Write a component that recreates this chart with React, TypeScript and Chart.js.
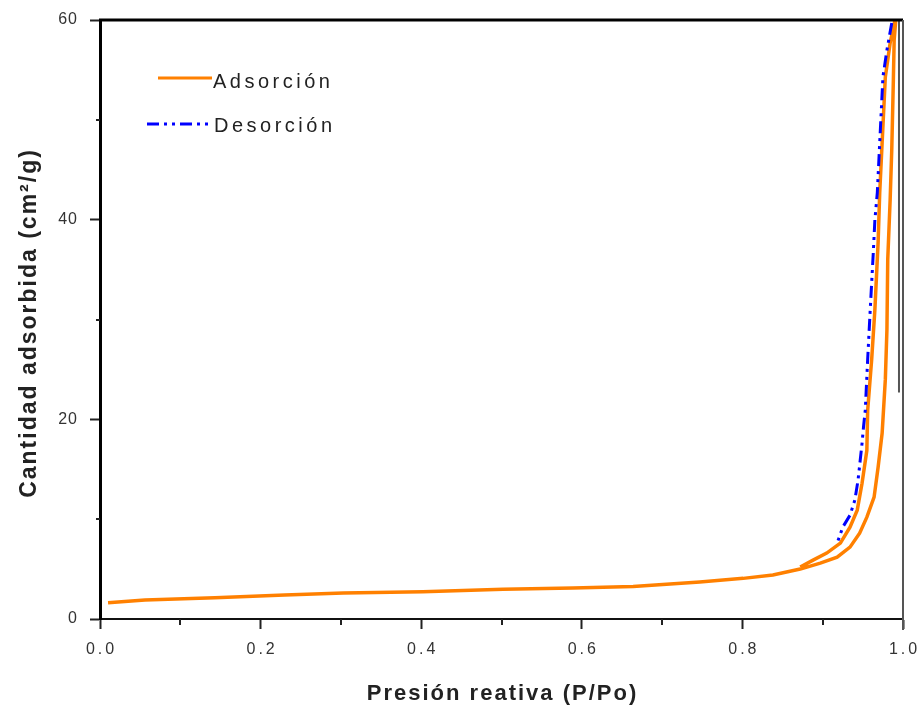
import React, { useEffect, useRef } from 'react';
import { Chart, registerables } from 'chart.js';

Chart.register(...registerables);

// ---- data ----
const xTickValues = [0, 0.2, 0.4, 0.6, 0.8, 1.0];
const xTickLabels = ['0.0', '0.2', '0.4', '0.6', '0.8', '1.0'];
const xMinorTicks = [0.1, 0.3, 0.5, 0.7, 0.9];
const yTickValues = [0, 20, 40, 60];
const yTickLabels = ['0', '20', '40', '60'];
const yMinorTicks = [10, 30, 50];

// adsorption branch (orange), rising
const adsorcionX = [0.010, 0.056, 0.143, 0.230, 0.303, 0.402, 0.502, 0.589, 0.664, 0.710, 0.747, 0.801, 0.838, 0.872, 0.897, 0.918, 0.934, 0.946, 0.955, 0.964, 0.969, 0.974, 0.978, 0.980, 0.981, 0.984, 0.986, 0.988, 0.989, 0.991];
const adsorcionY = [1.63, 1.90, 2.13, 2.40, 2.60, 2.74, 2.97, 3.10, 3.25, 3.50, 3.70, 4.07, 4.40, 5.00, 5.60, 6.20, 7.20, 8.60, 10.2, 12.2, 15.2, 18.6, 24.0, 29.0, 36.0, 42.0, 47.0, 54.0, 58.0, 60.0];
// orange return branch (closing the hysteresis loop)
const retornoX = [0.990, 0.984, 0.978, 0.974, 0.971, 0.969, 0.965, 0.961, 0.956, 0.955, 0.949, 0.943, 0.934, 0.922, 0.905, 0.888, 0.872];
const retornoY = [60.0, 57.7, 54.3, 47.7, 42.7, 37.7, 31.0, 26.0, 20.9, 16.9, 13.6, 10.9, 9.2, 7.6, 6.6, 5.9, 5.2];
// desorption (blue dash-dot)
const desorcionX = [0.986, 0.980, 0.975, 0.971, 0.968, 0.965, 0.963, 0.959, 0.956, 0.953, 0.951, 0.949, 0.944, 0.940, 0.934, 0.925, 0.918];
const desorcionY = [59.7, 57.0, 54.3, 47.7, 42.7, 40.0, 36.7, 30.7, 26.0, 20.9, 19.4, 17.6, 13.9, 11.9, 10.4, 9.2, 7.6];
// grey drop line near the right edge
const lineaX = [0.995, 0.995];
const lineaY = [22.7, 60.0];

const seriesNames = ['Adsorción', 'Desorción'];
const xTitle = 'Presión reativa (P/Po)';
const yTitle = 'Cantidad adsorbida (cm²/g)';

const ORANGE = '#FF8000';
const BLUE = '#0000FF';
const DASH = [12, 5, 3, 5, 3, 5];
const FONT = '"Liberation Sans", Arial, sans-serif';

const pts = (xs: number[], ys: number[]) => xs.map((x, i) => ({ x, y: ys[i] }));

const decor = {
  id: 'decor',
  afterDraw(chart: any) {
    const { ctx, chartArea: a, scales } = chart;
    const xs = scales.x;
    const ys = scales.y;
    ctx.save();
    // top frame
    ctx.strokeStyle = '#000';
    ctx.lineWidth = 3;
    ctx.beginPath();
    ctx.moveTo(a.left - 1, a.top);
    ctx.lineTo(a.right, a.top);
    ctx.stroke();
    // right frame
    ctx.strokeStyle = '#555';
    ctx.lineWidth = 2;
    ctx.beginPath();
    ctx.moveTo(a.right, a.top);
    ctx.lineTo(a.right, a.bottom + 11);
    ctx.stroke();
    // minor ticks
    ctx.strokeStyle = '#222';
    ctx.lineWidth = 2;
    xMinorTicks.forEach((v) => {
      const px = Math.round(xs.getPixelForValue(v));
      ctx.beginPath();
      ctx.moveTo(px, a.bottom);
      ctx.lineTo(px, a.bottom + 6);
      ctx.stroke();
    });
    yMinorTicks.forEach((v) => {
      const py = Math.round(ys.getPixelForValue(v));
      ctx.beginPath();
      ctx.moveTo(a.left, py);
      ctx.lineTo(a.left - 4, py);
      ctx.stroke();
    });
    // tick labels
    ctx.fillStyle = '#333';
    ctx.font = '16px ' + FONT;
    ctx.textBaseline = 'middle';
    (ctx as any).letterSpacing = '3px';
    ctx.textAlign = 'center';
    xTickValues.forEach((v, i) => {
      ctx.fillText(xTickLabels[i], xs.getPixelForValue(v) + 1.5, 650);
    });
    (ctx as any).letterSpacing = '1px';
    ctx.textAlign = 'right';
    yTickValues.forEach((v, i) => {
      ctx.fillText(yTickLabels[i], 78, ys.getPixelForValue(v));
    });
    // axis titles
    ctx.fillStyle = '#222';
    ctx.textBaseline = 'alphabetic';
    ctx.font = 'bold 22px ' + FONT;
    (ctx as any).letterSpacing = '2px';
    ctx.textAlign = 'center';
    ctx.fillText(xTitle, (a.left + a.right) / 2 + 1, 700);
    ctx.save();
    ctx.translate(36, 323);
    ctx.rotate(-Math.PI / 2);
    ctx.font = 'bold 23px ' + FONT;
    (ctx as any).letterSpacing = '2px';
    ctx.fillText(yTitle, 0, 0);
    ctx.restore();
    // legend
    ctx.lineWidth = 3;
    ctx.strokeStyle = ORANGE;
    ctx.setLineDash([]);
    ctx.beginPath();
    ctx.moveTo(158, 78);
    ctx.lineTo(212, 78);
    ctx.stroke();
    ctx.strokeStyle = BLUE;
    ctx.setLineDash(DASH);
    ctx.beginPath();
    ctx.moveTo(147, 124);
    ctx.lineTo(208, 124);
    ctx.stroke();
    ctx.setLineDash([]);
    ctx.font = '20px ' + FONT;
    (ctx as any).letterSpacing = '3.5px';
    ctx.textAlign = 'left';
    ctx.fillStyle = '#222';
    ctx.fillText(seriesNames[0], 213, 88);
    ctx.fillText(seriesNames[1], 214, 132);
    ctx.restore();
  },
};

export default function App() {
  const ref = useRef<HTMLCanvasElement>(null);
  useEffect(() => {
    if (!ref.current) return;
    const chart = new Chart(ref.current, {
      type: 'scatter',
      data: {
        datasets: [
          {
            label: seriesNames[1],
            data: pts(desorcionX, desorcionY),
            showLine: true,
            borderColor: BLUE,
            borderWidth: 3,
            borderDash: DASH,
            pointRadius: 0,
            order: 0,
          },
          {
            label: seriesNames[0],
            data: [...pts(adsorcionX, adsorcionY), ...pts(retornoX, retornoY)],
            showLine: true,
            borderColor: ORANGE,
            borderWidth: 3.5,
            pointRadius: 0,
            order: 1,
          },
          {
            label: 'linea',
            data: pts(lineaX, lineaY),
            showLine: true,
            borderColor: '#555',
            borderWidth: 2,
            pointRadius: 0,
            order: 2,
          },
        ],
      },
      options: {
        animation: false,
        responsive: false,
        devicePixelRatio: 1,
        layout: { padding: { top: 20, right: 17, left: 0, bottom: 0 } },
        plugins: { legend: { display: false }, tooltip: { enabled: false } },
        scales: {
          x: {
            type: 'linear',
            min: 0,
            max: 1,
            ticks: { display: false, stepSize: 0.2 },
            grid: { drawOnChartArea: false, tickLength: 10, tickColor: '#222', tickWidth: 2 },
            border: { color: '#111', width: 2 },
            afterFit: (s: any) => { s.height = 87; },
          },
          y: {
            type: 'linear',
            min: 0,
            max: 60,
            ticks: { display: false, stepSize: 20 },
            grid: { drawOnChartArea: false, tickLength: 10, tickColor: '#222', tickWidth: 2 },
            border: { color: '#000', width: 3 },
            afterFit: (s: any) => { s.width = 100; },
          },
        },
      },
      plugins: [decor],
    } as any);
    return () => chart.destroy();
  }, []);
  return (
    <div style={{ position: 'fixed', left: 0, top: 0, width: 920, height: 706, background: '#fff' }}>
      <canvas ref={ref} width={920} height={706} style={{ display: 'block', width: 920, height: 706 }} />
    </div>
  );
}
